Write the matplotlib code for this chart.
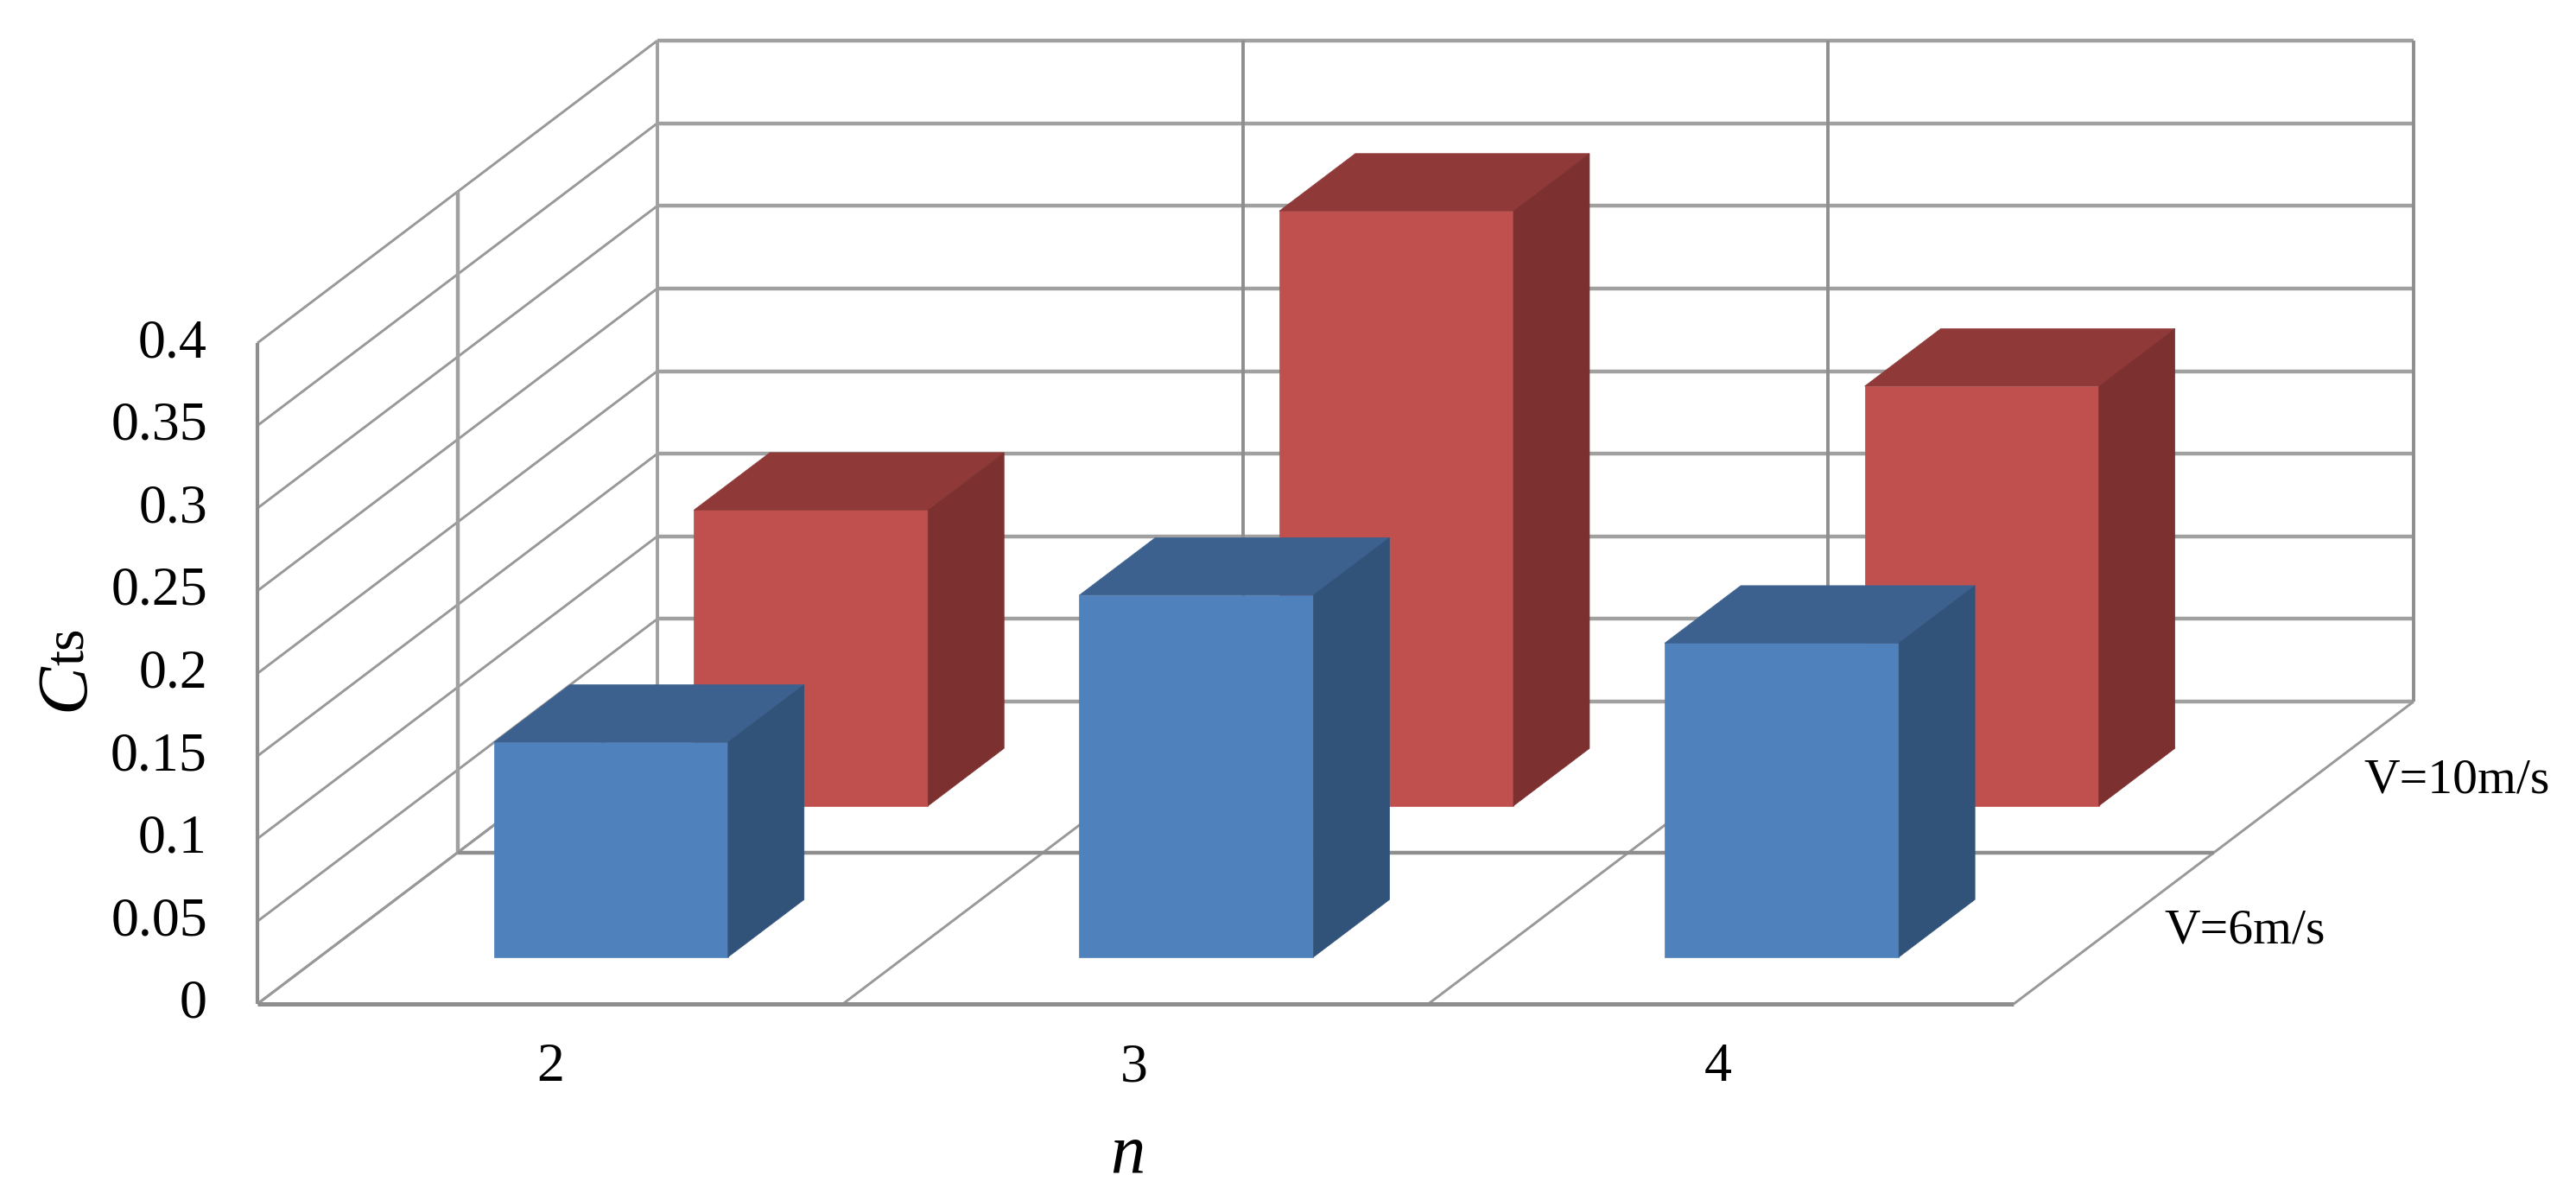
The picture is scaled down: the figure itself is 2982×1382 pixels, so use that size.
import matplotlib
matplotlib.use("Agg")
import matplotlib.pyplot as plt
from matplotlib.patches import Polygon

plt.rcParams['font.family'] = ['Liberation Serif', 'DejaVu Serif']

categories = ['2', '3', '4']
series_names = ['V=6m/s', 'V=10m/s']
v6_values = [0.130, 0.219, 0.190]
v10_values = [0.179, 0.360, 0.254]
y_ticks = [0, 0.05, 0.1, 0.15, 0.2, 0.25, 0.3, 0.35, 0.4]
y_tick_labels = ['0', '0.05', '0.1', '0.15', '0.2', '0.25', '0.3', '0.35', '0.4']

# oblique projection of the excel style 3d box, in image pixels
X0, Y0 = 298, 1162
CAT_W = 677.7
PX_PER_UNIT = 1912.5
DEPTH_X, DEPTH_Y = 463, 350
Y_MAX = 0.4


def project(cat, value, depth):
    return (X0 + cat * CAT_W + depth * DEPTH_X,
            Y0 - value * PX_PER_UNIT - depth * DEPTH_Y)


fig = plt.figure(figsize=(29.82, 13.82), dpi=100)
ax = fig.add_axes([0, 0, 1, 1])
ax.set_xlim(0, 2982)
ax.set_ylim(1382, 0)
ax.axis('off')

n_cat = len(categories)
GRID = '#a0a0a0'
GRID_DARK = '#8e8e8e'


def line(p, q, color=GRID, lw=3.0):
    ax.plot([p[0], q[0]], [p[1], q[1]], color=color, lw=lw,
            solid_capstyle='butt', zorder=1)


# walls: one horizontal on the back, one diagonal on the side per tick
for t in y_ticks:
    line(project(0, t, 1), project(n_cat, t, 1), lw=3.2)
    line(project(0, t, 0), project(0, t, 1), color='#989898', lw=2.1)

# back wall verticals
for c in range(n_cat + 1):
    line(project(c, 0, 1), project(c, Y_MAX, 1), color=GRID_DARK if c else GRID, lw=2.8)

# side wall verticals
line(project(0, 0, 0), project(0, Y_MAX, 0), color=GRID_DARK, lw=3.0)
line(project(0, 0, 0.5), project(0, Y_MAX, 0.5), lw=3.2)

# floor
for c in range(n_cat + 1):
    line(project(c, 0, 0), project(c, 0, 1), color='#989898', lw=2.1)
line(project(0, 0, 0.5), project(n_cat, 0, 0.5), color=GRID_DARK, lw=3.2)
line(project(0, 0, 0), project(n_cat, 0, 0), color=GRID_DARK, lw=3.6)


def bar3d(cat, value, d0, d1, front, top, side, z):
    x0, x1 = cat + 0.298, cat + 0.698
    faces = [
        ([project(x0, 0, d0), project(x1, 0, d0), project(x1, value, d0), project(x0, value, d0)], front),
        ([project(x0, value, d0), project(x1, value, d0), project(x1, value, d1), project(x0, value, d1)], top),
        ([project(x1, 0, d0), project(x1, 0, d1), project(x1, value, d1), project(x1, value, d0)], side),
    ]
    for pts, col in faces:
        ax.add_patch(Polygon(pts, closed=True, facecolor=col, edgecolor=col, lw=0.5, zorder=z))


for i in range(n_cat):
    bar3d(i, v10_values[i], 0.655, 0.845, '#C0504D', '#8F3A39', '#7C3130', 2)
for i in range(n_cat):
    bar3d(i, v6_values[i], 0.155, 0.345, '#4F81BD', '#3D618F', '#325379', 3)

# value axis labels
for t, lab in zip(y_ticks, y_tick_labels):
    ax.text(240, project(0, t, 0)[1] + 1, lab, ha='right', va='center', fontsize=46, color='black')

# category labels
for i, lab in enumerate(categories):
    ax.text(project(i + 0.5, 0, 0)[0] - 2 * i, 1236, lab, ha='center', va='center', fontsize=46, color='black')

# series labels
ax.text(2736, 917, series_names[1], ha='left', va='baseline', fontsize=41.5, color='black')
ax.text(2505, 1092, series_names[0], ha='left', va='baseline', fontsize=41.5, color='black')

# axis titles
ax.text(96, 823, 'C', rotation=90, rotation_mode='anchor', ha='left', va='baseline',
        fontsize=60, style='italic', color='black')
ax.text(96, 770, 'ts', rotation=90, rotation_mode='anchor', ha='left', va='baseline',
        fontsize=47, color='black')
ax.text(1305, 1337, 'n', ha='center', va='center', fontsize=58, style='italic', color='black')

fig.savefig('out.png', dpi=100, facecolor='white')
